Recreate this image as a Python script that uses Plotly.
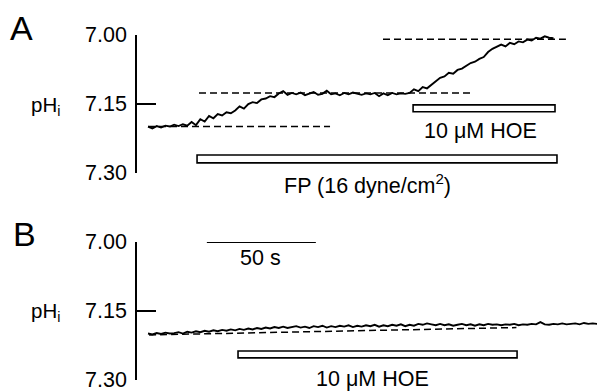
import plotly.graph_objects as go

# ---------------- data ----------------
# Panel A: pHi trace sampled every 2 s
time_a = list(range(0, 188, 2))
ph_a = [7.199, 7.203, 7.198, 7.201, 7.197, 7.199, 7.195, 7.198, 7.194, 7.197,
        7.189, 7.196, 7.183, 7.188, 7.176, 7.181, 7.172, 7.175, 7.168, 7.170,
        7.164, 7.155, 7.160, 7.150, 7.146, 7.148, 7.140, 7.138, 7.133, 7.135,
        7.127, 7.122, 7.130, 7.126, 7.129, 7.125, 7.131, 7.127, 7.124, 7.130,
        7.128, 7.121, 7.129, 7.127, 7.131, 7.126, 7.129, 7.125, 7.128, 7.130,
        7.127, 7.129, 7.126, 7.133, 7.127, 7.131, 7.126, 7.129, 7.127, 7.128,
        7.126, 7.118, 7.122, 7.113, 7.116, 7.108, 7.101, 7.093, 7.090, 7.082,
        7.084, 7.076, 7.073, 7.066, 7.061, 7.058, 7.052, 7.048, 7.037, 7.030,
        7.026, 7.021, 7.025, 7.017, 7.020, 7.014, 7.016, 7.010, 7.012, 7.006,
        7.008, 7.003, 7.006, 7.007]

# Panel B: pHi trace sampled every 2 s
time_b = list(range(0, 212, 2))
ph_b = [7.199, 7.201, 7.198, 7.200, 7.197, 7.199, 7.198, 7.196, 7.199, 7.195,
        7.197, 7.194, 7.196, 7.193, 7.195, 7.192, 7.194, 7.191, 7.193, 7.190,
        7.192, 7.189, 7.191, 7.188, 7.190, 7.187, 7.189, 7.186, 7.188, 7.185,
        7.187, 7.184, 7.187, 7.185, 7.183, 7.186, 7.184, 7.187, 7.183, 7.185,
        7.182, 7.186, 7.183, 7.185, 7.182, 7.184, 7.181, 7.185, 7.182, 7.184,
        7.181, 7.183, 7.180, 7.184, 7.181, 7.183, 7.180, 7.182, 7.179, 7.183,
        7.180, 7.182, 7.178, 7.180, 7.177, 7.179, 7.181, 7.178, 7.181, 7.179,
        7.182, 7.180, 7.178, 7.181, 7.179, 7.182, 7.179, 7.181, 7.178, 7.180,
        7.179, 7.181, 7.179, 7.180, 7.178, 7.181, 7.179, 7.180, 7.178, 7.179,
        7.174, 7.179, 7.180, 7.178, 7.179, 7.177, 7.179, 7.178, 7.177, 7.179,
        7.176, 7.178, 7.177, 7.178, 7.175, 7.177]

# reference (dashed) levels, panel A: (start s, end s, pH)
ref_a = [(0.0, 83.5, 7.199), (23.4, 149.0, 7.126), (107.8, 191.7, 7.0095)]
# reference (dashed) line, panel B
ref_b_t = [0.5, 169.0]
ref_b_ph = [7.202, 7.186]

# treatment periods (s)
fp_a = [22.5, 187.6]
hoe_a = [121.6, 186.7]
hoe_b = [41.3, 169.3]
scale_bar = [27.0, 77.0]   # 50 s

tick_vals = [7.00, 7.15, 7.30]
tick_text = ["7.00", "7.15", "7.30"]

# ---------------- layout helpers ----------------
W, H = 605, 391
OFF = 8          # page body margin of the html page
FONT = "Liberation Sans, Arial, sans-serif"
PX_PER_S = 2.18
T0_PX = 148


def px(x):
    return (x - OFF) / W


def py(y):
    return (H - (y - OFF)) / H


fig = go.Figure()

line_style = dict(color="black", width=1.9)
dash_style = dict(color="black", width=1.5, dash="7px,4px")

fig.add_trace(go.Scatter(x=time_a, y=ph_a, mode="lines", line=line_style,
                         xaxis="x", yaxis="y", showlegend=False))
for t0, t1, lv in ref_a:
    fig.add_trace(go.Scatter(x=[t0, t1], y=[lv, lv], mode="lines", line=dash_style,
                             xaxis="x", yaxis="y", showlegend=False))

fig.add_trace(go.Scatter(x=ref_b_t, y=ref_b_ph, mode="lines", line=dash_style,
                         xaxis="x", yaxis="y2", showlegend=False))
fig.add_trace(go.Scatter(x=time_b, y=ph_b, mode="lines", line=line_style,
                         xaxis="x", yaxis="y2", showlegend=False))

bar_line = dict(color="black", width=1.6)
shapes = [
    dict(type="rect", xref="x", yref="y", x0=fp_a[0], x1=fp_a[1], y0=7.261, y1=7.278,
         line=bar_line, fillcolor="white"),
    dict(type="rect", xref="x", yref="y", x0=hoe_a[0], x1=hoe_a[1], y0=7.152, y1=7.167,
         line=bar_line, fillcolor="white"),
    dict(type="rect", xref="x", yref="y2", x0=hoe_b[0], x1=hoe_b[1], y0=7.237, y1=7.252,
         line=bar_line, fillcolor="white"),
    dict(type="line", xref="x", yref="y2", x0=scale_bar[0], x1=scale_bar[1], y0=7.00, y1=7.00,
         line=dict(color="black", width=1.8)),
]

FS = 21.5
ann_font = dict(family=FONT, size=FS, color="black")
annotations = [
    dict(text="A", x=px(21), y=py(28), font=dict(family=FONT, size=34, color="black")),
    dict(text="B", x=px(24), y=py(234), font=dict(family=FONT, size=34, color="black")),
    dict(text="pH<sub>i</sub>", x=px(45), y=py(106), font=dict(family=FONT, size=20.5, color="black")),
    dict(text="pH<sub>i</sub>", x=px(45), y=py(312), font=dict(family=FONT, size=20.5, color="black")),
    dict(text="10 μM HOE", x=px(480), y=py(131), font=ann_font),
    dict(text="FP (16 dyne/cm<sup>2</sup>)", x=px(367), y=py(184), font=ann_font),
    dict(text="50 s", x=px(261), y=py(258), font=ann_font),
    dict(text="10 μM HOE", x=px(372), y=py(379), font=ann_font),
]
for a in annotations:
    a.update(xref="paper", yref="paper", showarrow=False, xanchor="center", yanchor="middle")

# y tick labels (placed on the axis scale, right-aligned next to the axis line)
for yref in ("y", "y2"):
    for v, t in zip(tick_vals, tick_text):
        annotations.append(dict(text=t, x=px(129), y=v, xref="paper", yref=yref,
                                showarrow=False, xanchor="right", yanchor="middle",
                                font=ann_font))

yax = dict(range=[7.30, 7.00], showgrid=False, zeroline=False, showline=True,
           linecolor="black", linewidth=1.8, ticks="inside", ticklen=19, tickwidth=1.8,
           tickcolor="black", tickvals=tick_vals, showticklabels=False,
           anchor="free", position=px(136), side="left", automargin=False)

fig.update_layout(
    template="none",
    width=W, height=H,
    margin=dict(l=0, r=0, t=0, b=0, pad=0, autoexpand=False),
    paper_bgcolor="white", plot_bgcolor="white",
    xaxis=dict(domain=[0, 1],
               range=[(OFF - T0_PX) / PX_PER_S, (OFF + W - T0_PX) / PX_PER_S],
               visible=False, automargin=False),
    yaxis=dict(domain=[py(173), py(35)], **yax),
    yaxis2=dict(domain=[py(380), py(242)], **yax),
    shapes=shapes,
    annotations=annotations,
)

fig.write_html("out.html")
